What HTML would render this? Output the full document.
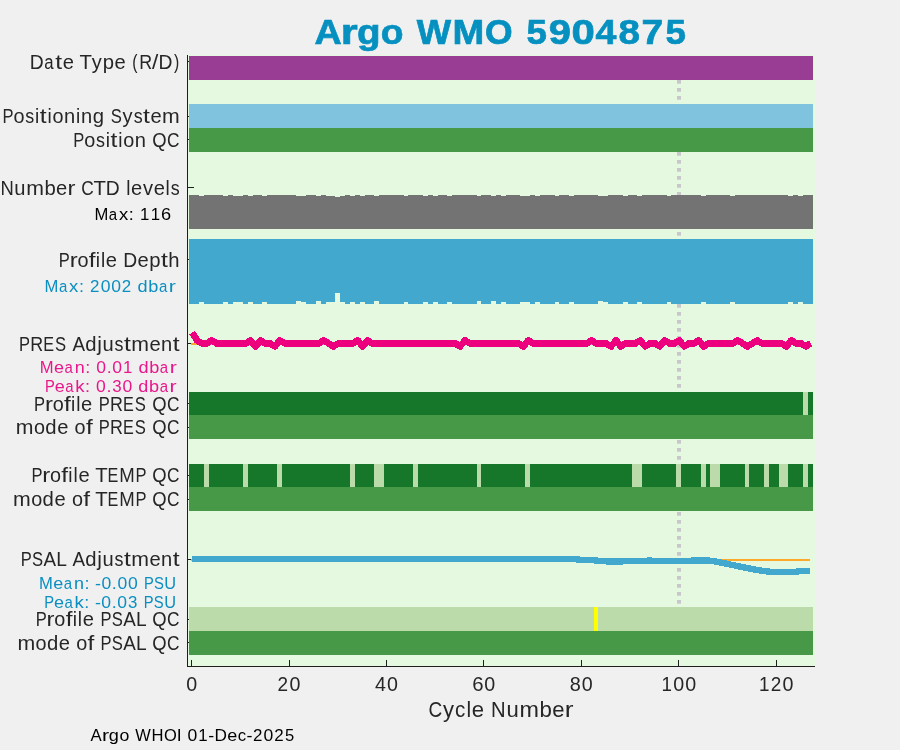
<!DOCTYPE html>
<html><head><meta charset="utf-8"><title>Argo WMO 5904875</title>
<style>
html,body{margin:0;padding:0;background:#f0f0f0;}
body{width:900px;height:750px;overflow:hidden;}
svg{display:block;}
text{font-family:"Liberation Sans", sans-serif;font-variant-ligatures:none;font-kerning:none;}
.tx{will-change:transform;}
</style></head><body>
<svg width="900" height="750" viewBox="0 0 900 750">
<rect x="0" y="0" width="900" height="750" fill="#f0f0f0"/>
<rect x="188.00" y="55.00" width="627.00" height="611.50" fill="#e5f8e0"/>
<rect x="187.00" y="61.00" width="7.00" height="1.00" fill="#1e1e1e"/>
<rect x="187.00" y="116.00" width="7.00" height="1.00" fill="#1e1e1e"/>
<rect x="187.00" y="139.00" width="7.00" height="1.00" fill="#1e1e1e"/>
<rect x="187.00" y="187.00" width="7.00" height="1.00" fill="#1e1e1e"/>
<rect x="187.00" y="259.00" width="7.00" height="1.00" fill="#1e1e1e"/>
<rect x="187.00" y="343.00" width="7.00" height="1.00" fill="#1e1e1e"/>
<rect x="187.00" y="403.00" width="7.00" height="1.00" fill="#1e1e1e"/>
<rect x="187.00" y="427.00" width="7.00" height="1.00" fill="#1e1e1e"/>
<rect x="187.00" y="475.00" width="7.00" height="1.00" fill="#1e1e1e"/>
<rect x="187.00" y="499.00" width="7.00" height="1.00" fill="#1e1e1e"/>
<rect x="187.00" y="559.00" width="7.00" height="1.00" fill="#1e1e1e"/>
<rect x="187.00" y="619.00" width="7.00" height="1.00" fill="#1e1e1e"/>
<rect x="187.00" y="642.00" width="7.00" height="1.00" fill="#1e1e1e"/>
<g><rect x="677.00" y="80.00" width="4.00" height="3.70" fill="#c8c6ca"/><rect x="677.00" y="88.00" width="4.00" height="3.70" fill="#c8c6ca"/><rect x="677.00" y="96.00" width="4.00" height="3.70" fill="#c8c6ca"/><rect x="677.00" y="104.00" width="4.00" height="3.70" fill="#c8c6ca"/><rect x="677.00" y="112.00" width="4.00" height="3.70" fill="#c8c6ca"/><rect x="677.00" y="120.00" width="4.00" height="3.70" fill="#c8c6ca"/><rect x="677.00" y="128.00" width="4.00" height="3.70" fill="#c8c6ca"/><rect x="677.00" y="136.00" width="4.00" height="3.70" fill="#c8c6ca"/><rect x="677.00" y="144.00" width="4.00" height="3.70" fill="#c8c6ca"/><rect x="677.00" y="152.00" width="4.00" height="3.70" fill="#c8c6ca"/><rect x="677.00" y="160.00" width="4.00" height="3.70" fill="#c8c6ca"/><rect x="677.00" y="168.00" width="4.00" height="3.70" fill="#c8c6ca"/><rect x="677.00" y="176.00" width="4.00" height="3.70" fill="#c8c6ca"/><rect x="677.00" y="184.00" width="4.00" height="3.70" fill="#c8c6ca"/><rect x="677.00" y="192.00" width="4.00" height="3.70" fill="#c8c6ca"/><rect x="677.00" y="200.00" width="4.00" height="3.70" fill="#c8c6ca"/><rect x="677.00" y="208.00" width="4.00" height="3.70" fill="#c8c6ca"/><rect x="677.00" y="216.00" width="4.00" height="3.70" fill="#c8c6ca"/><rect x="677.00" y="224.00" width="4.00" height="3.70" fill="#c8c6ca"/><rect x="677.00" y="232.00" width="4.00" height="3.70" fill="#c8c6ca"/><rect x="677.00" y="240.00" width="4.00" height="3.70" fill="#c8c6ca"/><rect x="677.00" y="248.00" width="4.00" height="3.70" fill="#c8c6ca"/><rect x="677.00" y="256.00" width="4.00" height="3.70" fill="#c8c6ca"/><rect x="677.00" y="264.00" width="4.00" height="3.70" fill="#c8c6ca"/><rect x="677.00" y="272.00" width="4.00" height="3.70" fill="#c8c6ca"/><rect x="677.00" y="280.00" width="4.00" height="3.70" fill="#c8c6ca"/><rect x="677.00" y="288.00" width="4.00" height="3.70" fill="#c8c6ca"/><rect x="677.00" y="296.00" width="4.00" height="3.70" fill="#c8c6ca"/><rect x="677.00" y="304.00" width="4.00" height="3.70" fill="#c8c6ca"/><rect x="677.00" y="312.00" width="4.00" height="3.70" fill="#c8c6ca"/><rect x="677.00" y="320.00" width="4.00" height="3.70" fill="#c8c6ca"/><rect x="677.00" y="328.00" width="4.00" height="3.70" fill="#c8c6ca"/><rect x="677.00" y="336.00" width="4.00" height="3.70" fill="#c8c6ca"/><rect x="677.00" y="344.00" width="4.00" height="3.70" fill="#c8c6ca"/><rect x="677.00" y="352.00" width="4.00" height="3.70" fill="#c8c6ca"/><rect x="677.00" y="360.00" width="4.00" height="3.70" fill="#c8c6ca"/><rect x="677.00" y="368.00" width="4.00" height="3.70" fill="#c8c6ca"/><rect x="677.00" y="376.00" width="4.00" height="3.70" fill="#c8c6ca"/><rect x="677.00" y="384.00" width="4.00" height="3.70" fill="#c8c6ca"/><rect x="677.00" y="392.00" width="4.00" height="3.70" fill="#c8c6ca"/><rect x="677.00" y="400.00" width="4.00" height="3.70" fill="#c8c6ca"/><rect x="677.00" y="408.00" width="4.00" height="3.70" fill="#c8c6ca"/><rect x="677.00" y="416.00" width="4.00" height="3.70" fill="#c8c6ca"/><rect x="677.00" y="424.00" width="4.00" height="3.70" fill="#c8c6ca"/><rect x="677.00" y="432.00" width="4.00" height="3.70" fill="#c8c6ca"/><rect x="677.00" y="440.00" width="4.00" height="3.70" fill="#c8c6ca"/><rect x="677.00" y="448.00" width="4.00" height="3.70" fill="#c8c6ca"/><rect x="677.00" y="456.00" width="4.00" height="3.70" fill="#c8c6ca"/><rect x="677.00" y="464.00" width="4.00" height="3.70" fill="#c8c6ca"/><rect x="677.00" y="472.00" width="4.00" height="3.70" fill="#c8c6ca"/><rect x="677.00" y="480.00" width="4.00" height="3.70" fill="#c8c6ca"/><rect x="677.00" y="488.00" width="4.00" height="3.70" fill="#c8c6ca"/><rect x="677.00" y="496.00" width="4.00" height="3.70" fill="#c8c6ca"/><rect x="677.00" y="504.00" width="4.00" height="3.70" fill="#c8c6ca"/><rect x="677.00" y="512.00" width="4.00" height="3.70" fill="#c8c6ca"/><rect x="677.00" y="520.00" width="4.00" height="3.70" fill="#c8c6ca"/><rect x="677.00" y="528.00" width="4.00" height="3.70" fill="#c8c6ca"/><rect x="677.00" y="536.00" width="4.00" height="3.70" fill="#c8c6ca"/><rect x="677.00" y="544.00" width="4.00" height="3.70" fill="#c8c6ca"/><rect x="677.00" y="552.00" width="4.00" height="3.70" fill="#c8c6ca"/><rect x="677.00" y="560.00" width="4.00" height="3.70" fill="#c8c6ca"/><rect x="677.00" y="568.00" width="4.00" height="3.70" fill="#c8c6ca"/><rect x="677.00" y="576.00" width="4.00" height="3.70" fill="#c8c6ca"/><rect x="677.00" y="584.00" width="4.00" height="3.70" fill="#c8c6ca"/><rect x="677.00" y="592.00" width="4.00" height="3.70" fill="#c8c6ca"/><rect x="677.00" y="600.00" width="4.00" height="3.70" fill="#c8c6ca"/></g>
<rect x="189.21" y="56.00" width="623.49" height="24.00" fill="#993d94" shape-rendering="crispEdges"/>
<rect x="189.21" y="104.00" width="623.49" height="24.00" fill="#7fc3df" shape-rendering="crispEdges"/>
<rect x="189.21" y="128.00" width="623.49" height="24.00" fill="#479947" shape-rendering="crispEdges"/>
<g shape-rendering="crispEdges"><rect x="189.21" y="195.00" width="4.92" height="34.00" fill="#737373"/><rect x="194.09" y="195.00" width="4.92" height="34.00" fill="#737373"/><rect x="198.96" y="196.00" width="4.92" height="33.00" fill="#737373"/><rect x="203.83" y="195.00" width="4.92" height="34.00" fill="#737373"/><rect x="208.70" y="195.00" width="4.92" height="34.00" fill="#737373"/><rect x="213.57" y="195.00" width="4.92" height="34.00" fill="#737373"/><rect x="218.44" y="195.00" width="4.92" height="34.00" fill="#737373"/><rect x="223.31" y="196.00" width="4.92" height="33.00" fill="#737373"/><rect x="228.18" y="195.00" width="4.92" height="34.00" fill="#737373"/><rect x="233.05" y="196.00" width="4.92" height="33.00" fill="#737373"/><rect x="237.92" y="196.00" width="4.92" height="33.00" fill="#737373"/><rect x="242.80" y="195.00" width="4.92" height="34.00" fill="#737373"/><rect x="247.67" y="196.00" width="4.92" height="33.00" fill="#737373"/><rect x="252.54" y="195.00" width="4.92" height="34.00" fill="#737373"/><rect x="257.41" y="195.00" width="4.92" height="34.00" fill="#737373"/><rect x="262.28" y="196.00" width="4.92" height="33.00" fill="#737373"/><rect x="267.15" y="195.00" width="4.92" height="34.00" fill="#737373"/><rect x="272.02" y="195.00" width="4.92" height="34.00" fill="#737373"/><rect x="276.89" y="195.00" width="4.92" height="34.00" fill="#737373"/><rect x="281.76" y="195.00" width="4.92" height="34.00" fill="#737373"/><rect x="286.63" y="195.00" width="4.92" height="34.00" fill="#737373"/><rect x="291.51" y="195.00" width="4.92" height="34.00" fill="#737373"/><rect x="296.38" y="196.00" width="4.92" height="33.00" fill="#737373"/><rect x="301.25" y="196.00" width="4.92" height="33.00" fill="#737373"/><rect x="306.12" y="195.00" width="4.92" height="34.00" fill="#737373"/><rect x="310.99" y="195.00" width="4.92" height="34.00" fill="#737373"/><rect x="315.86" y="196.00" width="4.92" height="33.00" fill="#737373"/><rect x="320.73" y="195.00" width="4.92" height="34.00" fill="#737373"/><rect x="325.60" y="196.00" width="4.92" height="33.00" fill="#737373"/><rect x="330.47" y="196.00" width="4.92" height="33.00" fill="#737373"/><rect x="335.34" y="197.00" width="4.92" height="32.00" fill="#737373"/><rect x="340.22" y="196.00" width="4.92" height="33.00" fill="#737373"/><rect x="345.09" y="195.00" width="4.92" height="34.00" fill="#737373"/><rect x="349.96" y="196.00" width="4.92" height="33.00" fill="#737373"/><rect x="354.83" y="195.00" width="4.92" height="34.00" fill="#737373"/><rect x="359.70" y="196.00" width="4.92" height="33.00" fill="#737373"/><rect x="364.57" y="195.00" width="4.92" height="34.00" fill="#737373"/><rect x="369.44" y="195.00" width="4.92" height="34.00" fill="#737373"/><rect x="374.31" y="196.00" width="4.92" height="33.00" fill="#737373"/><rect x="379.18" y="195.00" width="4.92" height="34.00" fill="#737373"/><rect x="384.05" y="195.00" width="4.92" height="34.00" fill="#737373"/><rect x="388.93" y="195.00" width="4.92" height="34.00" fill="#737373"/><rect x="393.80" y="195.00" width="4.92" height="34.00" fill="#737373"/><rect x="398.67" y="195.00" width="4.92" height="34.00" fill="#737373"/><rect x="403.54" y="196.00" width="4.92" height="33.00" fill="#737373"/><rect x="408.41" y="195.00" width="4.92" height="34.00" fill="#737373"/><rect x="413.28" y="195.00" width="4.92" height="34.00" fill="#737373"/><rect x="418.15" y="195.00" width="4.92" height="34.00" fill="#737373"/><rect x="423.02" y="196.00" width="4.92" height="33.00" fill="#737373"/><rect x="427.89" y="195.00" width="4.92" height="34.00" fill="#737373"/><rect x="432.76" y="196.00" width="4.92" height="33.00" fill="#737373"/><rect x="437.64" y="195.00" width="4.92" height="34.00" fill="#737373"/><rect x="442.51" y="195.00" width="4.92" height="34.00" fill="#737373"/><rect x="447.38" y="196.00" width="4.92" height="33.00" fill="#737373"/><rect x="452.25" y="195.00" width="4.92" height="34.00" fill="#737373"/><rect x="457.12" y="195.00" width="4.92" height="34.00" fill="#737373"/><rect x="461.99" y="195.00" width="4.92" height="34.00" fill="#737373"/><rect x="466.86" y="195.00" width="4.92" height="34.00" fill="#737373"/><rect x="471.73" y="195.00" width="4.92" height="34.00" fill="#737373"/><rect x="476.60" y="196.00" width="4.92" height="33.00" fill="#737373"/><rect x="481.47" y="195.00" width="4.92" height="34.00" fill="#737373"/><rect x="486.35" y="195.00" width="4.92" height="34.00" fill="#737373"/><rect x="491.22" y="196.00" width="4.92" height="33.00" fill="#737373"/><rect x="496.09" y="195.00" width="4.92" height="34.00" fill="#737373"/><rect x="500.96" y="196.00" width="4.92" height="33.00" fill="#737373"/><rect x="505.83" y="195.00" width="4.92" height="34.00" fill="#737373"/><rect x="510.70" y="195.00" width="4.92" height="34.00" fill="#737373"/><rect x="515.57" y="195.00" width="4.92" height="34.00" fill="#737373"/><rect x="520.44" y="196.00" width="4.92" height="33.00" fill="#737373"/><rect x="525.31" y="196.00" width="4.92" height="33.00" fill="#737373"/><rect x="530.18" y="195.00" width="4.92" height="34.00" fill="#737373"/><rect x="535.06" y="196.00" width="4.92" height="33.00" fill="#737373"/><rect x="539.93" y="195.00" width="4.92" height="34.00" fill="#737373"/><rect x="544.80" y="195.00" width="4.92" height="34.00" fill="#737373"/><rect x="549.67" y="195.00" width="4.92" height="34.00" fill="#737373"/><rect x="554.54" y="196.00" width="4.92" height="33.00" fill="#737373"/><rect x="559.41" y="195.00" width="4.92" height="34.00" fill="#737373"/><rect x="564.28" y="195.00" width="4.92" height="34.00" fill="#737373"/><rect x="569.15" y="196.00" width="4.92" height="33.00" fill="#737373"/><rect x="574.02" y="195.00" width="4.92" height="34.00" fill="#737373"/><rect x="578.89" y="195.00" width="4.92" height="34.00" fill="#737373"/><rect x="583.77" y="195.00" width="4.92" height="34.00" fill="#737373"/><rect x="588.64" y="195.00" width="4.92" height="34.00" fill="#737373"/><rect x="593.51" y="195.00" width="4.92" height="34.00" fill="#737373"/><rect x="598.38" y="196.00" width="4.92" height="33.00" fill="#737373"/><rect x="603.25" y="196.00" width="4.92" height="33.00" fill="#737373"/><rect x="608.12" y="195.00" width="4.92" height="34.00" fill="#737373"/><rect x="612.99" y="195.00" width="4.92" height="34.00" fill="#737373"/><rect x="617.86" y="195.00" width="4.92" height="34.00" fill="#737373"/><rect x="622.73" y="196.00" width="4.92" height="33.00" fill="#737373"/><rect x="627.60" y="195.00" width="4.92" height="34.00" fill="#737373"/><rect x="632.48" y="195.00" width="4.92" height="34.00" fill="#737373"/><rect x="637.35" y="196.00" width="4.92" height="33.00" fill="#737373"/><rect x="642.22" y="195.00" width="4.92" height="34.00" fill="#737373"/><rect x="647.09" y="195.00" width="4.92" height="34.00" fill="#737373"/><rect x="651.96" y="195.00" width="4.92" height="34.00" fill="#737373"/><rect x="656.83" y="195.00" width="4.92" height="34.00" fill="#737373"/><rect x="661.70" y="195.00" width="4.92" height="34.00" fill="#737373"/><rect x="666.57" y="196.00" width="4.92" height="33.00" fill="#737373"/><rect x="671.44" y="195.00" width="4.92" height="34.00" fill="#737373"/><rect x="676.31" y="195.00" width="4.92" height="34.00" fill="#737373"/><rect x="681.19" y="195.00" width="4.92" height="34.00" fill="#737373"/><rect x="686.06" y="195.00" width="4.92" height="34.00" fill="#737373"/><rect x="690.93" y="195.00" width="4.92" height="34.00" fill="#737373"/><rect x="695.80" y="195.00" width="4.92" height="34.00" fill="#737373"/><rect x="700.67" y="196.00" width="4.92" height="33.00" fill="#737373"/><rect x="705.54" y="195.00" width="4.92" height="34.00" fill="#737373"/><rect x="710.41" y="195.00" width="4.92" height="34.00" fill="#737373"/><rect x="715.28" y="195.00" width="4.92" height="34.00" fill="#737373"/><rect x="720.15" y="195.00" width="4.92" height="34.00" fill="#737373"/><rect x="725.02" y="195.00" width="4.92" height="34.00" fill="#737373"/><rect x="729.90" y="196.00" width="4.92" height="33.00" fill="#737373"/><rect x="734.77" y="195.00" width="4.92" height="34.00" fill="#737373"/><rect x="739.64" y="195.00" width="4.92" height="34.00" fill="#737373"/><rect x="744.51" y="195.00" width="4.92" height="34.00" fill="#737373"/><rect x="749.38" y="195.00" width="4.92" height="34.00" fill="#737373"/><rect x="754.25" y="195.00" width="4.92" height="34.00" fill="#737373"/><rect x="759.12" y="195.00" width="4.92" height="34.00" fill="#737373"/><rect x="763.99" y="195.00" width="4.92" height="34.00" fill="#737373"/><rect x="768.86" y="195.00" width="4.92" height="34.00" fill="#737373"/><rect x="773.73" y="195.00" width="4.92" height="34.00" fill="#737373"/><rect x="778.61" y="195.00" width="4.92" height="34.00" fill="#737373"/><rect x="783.48" y="195.00" width="4.92" height="34.00" fill="#737373"/><rect x="788.35" y="196.00" width="4.92" height="33.00" fill="#737373"/><rect x="793.22" y="195.00" width="4.92" height="34.00" fill="#737373"/><rect x="798.09" y="196.00" width="4.92" height="33.00" fill="#737373"/><rect x="802.96" y="195.00" width="4.92" height="34.00" fill="#737373"/><rect x="807.83" y="195.00" width="4.92" height="34.00" fill="#737373"/></g>
<g shape-rendering="crispEdges"><rect x="189.21" y="239.00" width="4.92" height="65.00" fill="#42a8ce"/><rect x="194.09" y="239.00" width="4.92" height="65.00" fill="#42a8ce"/><rect x="198.96" y="239.00" width="4.92" height="63.00" fill="#42a8ce"/><rect x="203.83" y="239.00" width="4.92" height="65.00" fill="#42a8ce"/><rect x="208.70" y="239.00" width="4.92" height="65.00" fill="#42a8ce"/><rect x="213.57" y="239.00" width="4.92" height="65.00" fill="#42a8ce"/><rect x="218.44" y="239.00" width="4.92" height="65.00" fill="#42a8ce"/><rect x="223.31" y="239.00" width="4.92" height="63.00" fill="#42a8ce"/><rect x="228.18" y="239.00" width="4.92" height="65.00" fill="#42a8ce"/><rect x="233.05" y="239.00" width="4.92" height="63.00" fill="#42a8ce"/><rect x="237.92" y="239.00" width="4.92" height="63.00" fill="#42a8ce"/><rect x="242.80" y="239.00" width="4.92" height="65.00" fill="#42a8ce"/><rect x="247.67" y="239.00" width="4.92" height="63.00" fill="#42a8ce"/><rect x="252.54" y="239.00" width="4.92" height="65.00" fill="#42a8ce"/><rect x="257.41" y="239.00" width="4.92" height="65.00" fill="#42a8ce"/><rect x="262.28" y="239.00" width="4.92" height="63.00" fill="#42a8ce"/><rect x="267.15" y="239.00" width="4.92" height="65.00" fill="#42a8ce"/><rect x="272.02" y="239.00" width="4.92" height="65.00" fill="#42a8ce"/><rect x="276.89" y="239.00" width="4.92" height="65.00" fill="#42a8ce"/><rect x="281.76" y="239.00" width="4.92" height="65.00" fill="#42a8ce"/><rect x="286.63" y="239.00" width="4.92" height="65.00" fill="#42a8ce"/><rect x="291.51" y="239.00" width="4.92" height="65.00" fill="#42a8ce"/><rect x="296.38" y="239.00" width="4.92" height="62.00" fill="#42a8ce"/><rect x="301.25" y="239.00" width="4.92" height="63.00" fill="#42a8ce"/><rect x="306.12" y="239.00" width="4.92" height="65.00" fill="#42a8ce"/><rect x="310.99" y="239.00" width="4.92" height="65.00" fill="#42a8ce"/><rect x="315.86" y="239.00" width="4.92" height="62.00" fill="#42a8ce"/><rect x="320.73" y="239.00" width="4.92" height="65.00" fill="#42a8ce"/><rect x="325.60" y="239.00" width="4.92" height="63.00" fill="#42a8ce"/><rect x="330.47" y="239.00" width="4.92" height="63.00" fill="#42a8ce"/><rect x="335.34" y="239.00" width="4.92" height="53.80" fill="#42a8ce"/><rect x="340.22" y="239.00" width="4.92" height="63.00" fill="#42a8ce"/><rect x="345.09" y="239.00" width="4.92" height="65.00" fill="#42a8ce"/><rect x="349.96" y="239.00" width="4.92" height="63.00" fill="#42a8ce"/><rect x="354.83" y="239.00" width="4.92" height="65.00" fill="#42a8ce"/><rect x="359.70" y="239.00" width="4.92" height="63.00" fill="#42a8ce"/><rect x="364.57" y="239.00" width="4.92" height="65.00" fill="#42a8ce"/><rect x="369.44" y="239.00" width="4.92" height="65.00" fill="#42a8ce"/><rect x="374.31" y="239.00" width="4.92" height="62.00" fill="#42a8ce"/><rect x="379.18" y="239.00" width="4.92" height="65.00" fill="#42a8ce"/><rect x="384.05" y="239.00" width="4.92" height="65.00" fill="#42a8ce"/><rect x="388.93" y="239.00" width="4.92" height="65.00" fill="#42a8ce"/><rect x="393.80" y="239.00" width="4.92" height="65.00" fill="#42a8ce"/><rect x="398.67" y="239.00" width="4.92" height="65.00" fill="#42a8ce"/><rect x="403.54" y="239.00" width="4.92" height="63.00" fill="#42a8ce"/><rect x="408.41" y="239.00" width="4.92" height="65.00" fill="#42a8ce"/><rect x="413.28" y="239.00" width="4.92" height="65.00" fill="#42a8ce"/><rect x="418.15" y="239.00" width="4.92" height="65.00" fill="#42a8ce"/><rect x="423.02" y="239.00" width="4.92" height="63.00" fill="#42a8ce"/><rect x="427.89" y="239.00" width="4.92" height="65.00" fill="#42a8ce"/><rect x="432.76" y="239.00" width="4.92" height="63.00" fill="#42a8ce"/><rect x="437.64" y="239.00" width="4.92" height="65.00" fill="#42a8ce"/><rect x="442.51" y="239.00" width="4.92" height="65.00" fill="#42a8ce"/><rect x="447.38" y="239.00" width="4.92" height="63.00" fill="#42a8ce"/><rect x="452.25" y="239.00" width="4.92" height="65.00" fill="#42a8ce"/><rect x="457.12" y="239.00" width="4.92" height="65.00" fill="#42a8ce"/><rect x="461.99" y="239.00" width="4.92" height="65.00" fill="#42a8ce"/><rect x="466.86" y="239.00" width="4.92" height="65.00" fill="#42a8ce"/><rect x="471.73" y="239.00" width="4.92" height="65.00" fill="#42a8ce"/><rect x="476.60" y="239.00" width="4.92" height="62.00" fill="#42a8ce"/><rect x="481.47" y="239.00" width="4.92" height="65.00" fill="#42a8ce"/><rect x="486.35" y="239.00" width="4.92" height="65.00" fill="#42a8ce"/><rect x="491.22" y="239.00" width="4.92" height="62.00" fill="#42a8ce"/><rect x="496.09" y="239.00" width="4.92" height="65.00" fill="#42a8ce"/><rect x="500.96" y="239.00" width="4.92" height="63.00" fill="#42a8ce"/><rect x="505.83" y="239.00" width="4.92" height="65.00" fill="#42a8ce"/><rect x="510.70" y="239.00" width="4.92" height="65.00" fill="#42a8ce"/><rect x="515.57" y="239.00" width="4.92" height="65.00" fill="#42a8ce"/><rect x="520.44" y="239.00" width="4.92" height="63.00" fill="#42a8ce"/><rect x="525.31" y="239.00" width="4.92" height="63.00" fill="#42a8ce"/><rect x="530.18" y="239.00" width="4.92" height="65.00" fill="#42a8ce"/><rect x="535.06" y="239.00" width="4.92" height="63.00" fill="#42a8ce"/><rect x="539.93" y="239.00" width="4.92" height="65.00" fill="#42a8ce"/><rect x="544.80" y="239.00" width="4.92" height="65.00" fill="#42a8ce"/><rect x="549.67" y="239.00" width="4.92" height="65.00" fill="#42a8ce"/><rect x="554.54" y="239.00" width="4.92" height="63.00" fill="#42a8ce"/><rect x="559.41" y="239.00" width="4.92" height="65.00" fill="#42a8ce"/><rect x="564.28" y="239.00" width="4.92" height="65.00" fill="#42a8ce"/><rect x="569.15" y="239.00" width="4.92" height="63.00" fill="#42a8ce"/><rect x="574.02" y="239.00" width="4.92" height="65.00" fill="#42a8ce"/><rect x="578.89" y="239.00" width="4.92" height="65.00" fill="#42a8ce"/><rect x="583.77" y="239.00" width="4.92" height="65.00" fill="#42a8ce"/><rect x="588.64" y="239.00" width="4.92" height="65.00" fill="#42a8ce"/><rect x="593.51" y="239.00" width="4.92" height="65.00" fill="#42a8ce"/><rect x="598.38" y="239.00" width="4.92" height="62.00" fill="#42a8ce"/><rect x="603.25" y="239.00" width="4.92" height="63.00" fill="#42a8ce"/><rect x="608.12" y="239.00" width="4.92" height="65.00" fill="#42a8ce"/><rect x="612.99" y="239.00" width="4.92" height="65.00" fill="#42a8ce"/><rect x="617.86" y="239.00" width="4.92" height="65.00" fill="#42a8ce"/><rect x="622.73" y="239.00" width="4.92" height="63.00" fill="#42a8ce"/><rect x="627.60" y="239.00" width="4.92" height="65.00" fill="#42a8ce"/><rect x="632.48" y="239.00" width="4.92" height="65.00" fill="#42a8ce"/><rect x="637.35" y="239.00" width="4.92" height="63.00" fill="#42a8ce"/><rect x="642.22" y="239.00" width="4.92" height="65.00" fill="#42a8ce"/><rect x="647.09" y="239.00" width="4.92" height="65.00" fill="#42a8ce"/><rect x="651.96" y="239.00" width="4.92" height="65.00" fill="#42a8ce"/><rect x="656.83" y="239.00" width="4.92" height="65.00" fill="#42a8ce"/><rect x="661.70" y="239.00" width="4.92" height="65.00" fill="#42a8ce"/><rect x="666.57" y="239.00" width="4.92" height="63.00" fill="#42a8ce"/><rect x="671.44" y="239.00" width="4.92" height="65.00" fill="#42a8ce"/><rect x="676.31" y="239.00" width="4.92" height="65.00" fill="#42a8ce"/><rect x="681.19" y="239.00" width="4.92" height="65.00" fill="#42a8ce"/><rect x="686.06" y="239.00" width="4.92" height="65.00" fill="#42a8ce"/><rect x="690.93" y="239.00" width="4.92" height="65.00" fill="#42a8ce"/><rect x="695.80" y="239.00" width="4.92" height="65.00" fill="#42a8ce"/><rect x="700.67" y="239.00" width="4.92" height="63.00" fill="#42a8ce"/><rect x="705.54" y="239.00" width="4.92" height="65.00" fill="#42a8ce"/><rect x="710.41" y="239.00" width="4.92" height="65.00" fill="#42a8ce"/><rect x="715.28" y="239.00" width="4.92" height="65.00" fill="#42a8ce"/><rect x="720.15" y="239.00" width="4.92" height="65.00" fill="#42a8ce"/><rect x="725.02" y="239.00" width="4.92" height="65.00" fill="#42a8ce"/><rect x="729.90" y="239.00" width="4.92" height="63.00" fill="#42a8ce"/><rect x="734.77" y="239.00" width="4.92" height="65.00" fill="#42a8ce"/><rect x="739.64" y="239.00" width="4.92" height="65.00" fill="#42a8ce"/><rect x="744.51" y="239.00" width="4.92" height="65.00" fill="#42a8ce"/><rect x="749.38" y="239.00" width="4.92" height="65.00" fill="#42a8ce"/><rect x="754.25" y="239.00" width="4.92" height="65.00" fill="#42a8ce"/><rect x="759.12" y="239.00" width="4.92" height="65.00" fill="#42a8ce"/><rect x="763.99" y="239.00" width="4.92" height="65.00" fill="#42a8ce"/><rect x="768.86" y="239.00" width="4.92" height="65.00" fill="#42a8ce"/><rect x="773.73" y="239.00" width="4.92" height="65.00" fill="#42a8ce"/><rect x="778.61" y="239.00" width="4.92" height="65.00" fill="#42a8ce"/><rect x="783.48" y="239.00" width="4.92" height="65.00" fill="#42a8ce"/><rect x="788.35" y="239.00" width="4.92" height="63.00" fill="#42a8ce"/><rect x="793.22" y="239.00" width="4.92" height="65.00" fill="#42a8ce"/><rect x="798.09" y="239.00" width="4.92" height="63.00" fill="#42a8ce"/><rect x="802.96" y="239.00" width="4.92" height="65.00" fill="#42a8ce"/><rect x="807.83" y="239.00" width="4.92" height="65.00" fill="#42a8ce"/></g>
<rect x="191.00" y="343.00" width="619.50" height="2.00" fill="#fda92b" shape-rendering="crispEdges"/>
<rect x="191.00" y="559.00" width="619.00" height="2.00" fill="#fda92b" shape-rendering="crispEdges"/>
<polyline points="192.15,332.55 197.02,340.40 201.89,343.40 206.76,343.40 211.63,340.40 216.50,343.40 221.38,343.40 226.25,343.40 231.12,343.40 235.99,343.40 240.86,343.40 245.73,343.40 250.60,340.40 255.47,346.40 260.34,340.40 265.22,343.40 270.09,343.40 274.96,346.40 279.83,340.40 284.70,343.40 289.57,343.40 294.44,343.40 299.31,343.40 304.18,343.40 309.05,343.40 313.93,343.40 318.80,343.40 323.67,340.40 328.54,343.40 333.41,346.40 338.28,343.40 343.15,343.40 348.02,343.40 352.89,343.40 357.76,340.40 362.63,346.40 367.51,340.40 372.38,343.40 377.25,343.40 382.12,343.40 386.99,343.40 391.86,343.40 396.73,343.40 401.60,343.40 406.47,343.40 411.35,343.40 416.22,343.40 421.09,343.40 425.96,343.40 430.83,343.40 435.70,343.40 440.57,343.40 445.44,343.40 450.31,343.40 455.18,343.40 460.06,346.40 464.93,340.40 469.80,343.40 474.67,343.40 479.54,343.40 484.41,343.40 489.28,343.40 494.15,343.40 499.02,343.40 503.89,343.40 508.76,343.40 513.64,343.40 518.51,343.40 523.38,346.40 528.25,340.40 533.12,343.40 537.99,343.40 542.86,343.40 547.73,343.40 552.60,343.40 557.48,343.40 562.35,343.40 567.22,343.40 572.09,343.40 576.96,343.40 581.83,343.40 586.70,343.40 591.57,340.40 596.44,343.40 601.31,343.40 606.19,343.40 611.06,346.40 615.93,340.40 620.80,346.40 625.67,343.40 630.54,343.40 635.41,343.40 640.28,340.40 645.15,346.40 650.02,343.40 654.90,343.40 659.77,346.40 664.64,340.40 669.51,343.40 674.38,343.40 679.25,340.40 684.12,346.40 688.99,343.40 693.86,343.40 698.73,340.40 703.61,346.40 708.48,343.40 713.35,343.40 718.22,343.40 723.09,343.40 727.96,343.40 732.83,343.40 737.70,340.40 742.57,343.40 747.44,346.40 752.32,343.40 757.19,340.40 762.06,343.40 766.93,343.40 771.80,343.40 776.67,343.40 781.54,343.40 786.41,346.40 791.28,340.40 796.15,343.40 801.02,343.40 805.90,346.40 810.77,343.40" fill="none" stroke="#ec007d" stroke-width="6.7" stroke-linejoin="round" stroke-linecap="butt" shape-rendering="crispEdges"/>
<polyline points="191.65,559.00 196.52,559.00 201.39,559.00 206.26,559.00 211.13,559.00 216.00,559.00 220.88,559.00 225.75,559.00 230.62,559.00 235.49,559.00 240.36,559.00 245.23,559.00 250.10,559.00 254.97,559.00 259.84,559.00 264.72,559.00 269.59,559.00 274.46,559.00 279.33,559.00 284.20,559.00 289.07,559.00 293.94,559.00 298.81,559.00 303.68,559.00 308.55,559.00 313.43,559.00 318.30,559.00 323.17,559.00 328.04,559.00 332.91,559.00 337.78,559.00 342.65,559.00 347.52,559.00 352.39,559.00 357.26,559.00 362.13,559.00 367.01,559.00 371.88,559.00 376.75,559.00 381.62,559.00 386.49,559.00 391.36,559.00 396.23,559.00 401.10,559.00 405.97,559.00 410.85,559.00 415.72,559.00 420.59,559.00 425.46,559.00 430.33,559.00 435.20,559.00 440.07,559.00 444.94,559.00 449.81,559.00 454.68,559.00 459.56,559.00 464.43,559.00 469.30,559.00 474.17,559.00 479.04,559.00 483.91,559.00 488.78,559.00 493.65,559.00 498.52,559.00 503.39,559.00 508.26,559.00 513.14,559.00 518.01,559.00 522.88,559.00 527.75,559.00 532.62,559.00 537.49,559.00 542.36,559.00 547.23,559.00 552.10,559.00 556.98,559.00 561.85,559.00 566.72,559.00 571.59,559.00 576.46,559.30 581.33,560.00 586.20,560.00 591.07,560.00 595.94,560.50 600.81,561.00 605.69,561.30 610.56,561.60 615.43,561.60 620.30,561.60 625.17,561.00 630.04,561.00 634.91,561.00 639.78,561.00 644.65,561.00 649.52,560.50 654.40,561.00 659.27,561.00 664.14,561.00 669.01,561.00 673.88,561.00 678.75,561.00 683.62,561.00 688.49,561.00 693.36,560.50 698.23,560.50 703.11,560.50 707.98,560.50 712.85,561.00 717.72,561.90 722.59,562.90 727.46,564.00 732.33,565.00 737.20,566.00 742.07,567.00 746.94,568.00 751.82,569.00 756.69,569.90 761.56,570.70 766.43,571.40 771.30,571.90 776.17,571.90 781.04,571.90 785.91,571.90 790.78,571.90 795.65,571.90 800.52,570.90 805.40,570.90 810.27,570.90" fill="none" stroke="#42a8ce" stroke-width="6.4" stroke-linejoin="round" stroke-linecap="butt" shape-rendering="crispEdges"/>
<rect x="189.21" y="392.00" width="623.49" height="23.00" fill="#16772b" shape-rendering="crispEdges"/>
<rect x="802.96" y="392.00" width="4.87" height="23.00" fill="#bcdbab" shape-rendering="crispEdges"/>
<rect x="189.21" y="415.00" width="623.49" height="24.00" fill="#479947" shape-rendering="crispEdges"/>
<rect x="189.21" y="464.00" width="623.49" height="23.00" fill="#16772b" shape-rendering="crispEdges"/>
<rect x="203.83" y="464.00" width="4.87" height="23.00" fill="#bcdbab" shape-rendering="crispEdges"/>
<rect x="242.80" y="464.00" width="4.87" height="23.00" fill="#bcdbab" shape-rendering="crispEdges"/>
<rect x="276.89" y="464.00" width="4.87" height="23.00" fill="#bcdbab" shape-rendering="crispEdges"/>
<rect x="349.96" y="464.00" width="4.87" height="23.00" fill="#bcdbab" shape-rendering="crispEdges"/>
<rect x="374.31" y="464.00" width="9.74" height="23.00" fill="#bcdbab" shape-rendering="crispEdges"/>
<rect x="413.28" y="464.00" width="4.87" height="23.00" fill="#bcdbab" shape-rendering="crispEdges"/>
<rect x="476.60" y="464.00" width="4.87" height="23.00" fill="#bcdbab" shape-rendering="crispEdges"/>
<rect x="525.31" y="464.00" width="4.87" height="23.00" fill="#bcdbab" shape-rendering="crispEdges"/>
<rect x="632.48" y="464.00" width="9.74" height="23.00" fill="#bcdbab" shape-rendering="crispEdges"/>
<rect x="676.31" y="464.00" width="4.87" height="23.00" fill="#bcdbab" shape-rendering="crispEdges"/>
<rect x="700.67" y="464.00" width="4.87" height="23.00" fill="#bcdbab" shape-rendering="crispEdges"/>
<rect x="710.41" y="464.00" width="9.74" height="23.00" fill="#bcdbab" shape-rendering="crispEdges"/>
<rect x="744.51" y="464.00" width="4.87" height="23.00" fill="#bcdbab" shape-rendering="crispEdges"/>
<rect x="763.99" y="464.00" width="4.87" height="23.00" fill="#bcdbab" shape-rendering="crispEdges"/>
<rect x="778.61" y="464.00" width="9.74" height="23.00" fill="#bcdbab" shape-rendering="crispEdges"/>
<rect x="802.96" y="464.00" width="4.87" height="23.00" fill="#bcdbab" shape-rendering="crispEdges"/>
<rect x="189.21" y="487.00" width="623.49" height="24.00" fill="#479947" shape-rendering="crispEdges"/>
<rect x="189.21" y="607.00" width="623.49" height="24.00" fill="#bcdbab" shape-rendering="crispEdges"/>
<rect x="593.51" y="607.00" width="4.87" height="24.00" fill="#ffff00" shape-rendering="crispEdges"/>
<rect x="189.21" y="631.00" width="623.49" height="24.00" fill="#479947" shape-rendering="crispEdges"/>
<rect x="187.00" y="55.00" width="1.00" height="612.00" fill="#1e1e1e"/>
<rect x="187.00" y="666.00" width="628.00" height="1.00" fill="#1e1e1e"/>
<rect x="191.00" y="660.00" width="1.00" height="6.00" fill="#1e1e1e"/>
<rect x="289.00" y="660.00" width="1.00" height="6.00" fill="#1e1e1e"/>
<rect x="386.00" y="660.00" width="1.00" height="6.00" fill="#1e1e1e"/>
<rect x="483.00" y="660.00" width="1.00" height="6.00" fill="#1e1e1e"/>
<rect x="581.00" y="660.00" width="1.00" height="6.00" fill="#1e1e1e"/>
<rect x="678.00" y="660.00" width="1.00" height="6.00" fill="#1e1e1e"/>
<rect x="776.00" y="660.00" width="1.00" height="6.00" fill="#1e1e1e"/>
<g class="tx">
<text y="69.00" font-size="19.78" fill="#262626"><tspan x="29.66" textLength="13.95" lengthAdjust="spacingAndGlyphs">D</tspan><tspan x="44.19" textLength="9.34" lengthAdjust="spacingAndGlyphs">a</tspan><tspan x="55.38" textLength="6.87" lengthAdjust="spacingAndGlyphs">t</tspan><tspan x="62.72" textLength="11.22" lengthAdjust="spacingAndGlyphs">e</tspan> <tspan x="79.46" textLength="12.44" lengthAdjust="spacingAndGlyphs">T</tspan><tspan x="91.88" textLength="10.02" lengthAdjust="spacingAndGlyphs">y</tspan><tspan x="102.81" textLength="11.30" lengthAdjust="spacingAndGlyphs">p</tspan><tspan x="114.45" textLength="11.22" lengthAdjust="spacingAndGlyphs">e</tspan> <tspan x="132.31" textLength="5.27" lengthAdjust="spacingAndGlyphs">(</tspan><tspan x="139.34" textLength="12.90" lengthAdjust="spacingAndGlyphs">R</tspan><tspan x="151.95" textLength="6.29" lengthAdjust="spacingAndGlyphs">/</tspan><tspan x="158.49" textLength="13.95" lengthAdjust="spacingAndGlyphs">D</tspan><tspan x="174.01" textLength="5.27" lengthAdjust="spacingAndGlyphs">)</tspan></text>
<text y="123.00" font-size="19.78" fill="#262626"><tspan x="2.59" textLength="11.01" lengthAdjust="spacingAndGlyphs">P</tspan><tspan x="13.57" textLength="11.04" lengthAdjust="spacingAndGlyphs">o</tspan><tspan x="25.31" textLength="8.95" lengthAdjust="spacingAndGlyphs">s</tspan><tspan x="35.01" textLength="4.24" lengthAdjust="spacingAndGlyphs">i</tspan><tspan x="39.87" textLength="6.87" lengthAdjust="spacingAndGlyphs">t</tspan><tspan x="47.51" textLength="4.24" lengthAdjust="spacingAndGlyphs">i</tspan><tspan x="52.42" textLength="11.04" lengthAdjust="spacingAndGlyphs">o</tspan><tspan x="64.00" textLength="11.19" lengthAdjust="spacingAndGlyphs">n</tspan><tspan x="75.96" textLength="4.24" lengthAdjust="spacingAndGlyphs">i</tspan><tspan x="81.02" textLength="11.19" lengthAdjust="spacingAndGlyphs">n</tspan><tspan x="92.67" textLength="11.29" lengthAdjust="spacingAndGlyphs">g</tspan> <tspan x="110.75" textLength="11.10" lengthAdjust="spacingAndGlyphs">S</tspan><tspan x="122.64" textLength="10.02" lengthAdjust="spacingAndGlyphs">y</tspan><tspan x="133.69" textLength="8.95" lengthAdjust="spacingAndGlyphs">s</tspan><tspan x="143.06" textLength="6.87" lengthAdjust="spacingAndGlyphs">t</tspan><tspan x="150.40" textLength="11.22" lengthAdjust="spacingAndGlyphs">e</tspan><tspan x="162.00" textLength="17.72" lengthAdjust="spacingAndGlyphs">m</tspan></text>
<text y="147.00" font-size="19.78" fill="#262626"><tspan x="73.35" textLength="11.01" lengthAdjust="spacingAndGlyphs">P</tspan><tspan x="84.33" textLength="11.04" lengthAdjust="spacingAndGlyphs">o</tspan><tspan x="96.07" textLength="8.95" lengthAdjust="spacingAndGlyphs">s</tspan><tspan x="105.77" textLength="4.24" lengthAdjust="spacingAndGlyphs">i</tspan><tspan x="110.63" textLength="6.87" lengthAdjust="spacingAndGlyphs">t</tspan><tspan x="118.27" textLength="4.24" lengthAdjust="spacingAndGlyphs">i</tspan><tspan x="123.18" textLength="11.04" lengthAdjust="spacingAndGlyphs">o</tspan><tspan x="134.76" textLength="11.19" lengthAdjust="spacingAndGlyphs">n</tspan> <tspan x="152.34" textLength="14.36" lengthAdjust="spacingAndGlyphs">Q</tspan><tspan x="167.03" textLength="12.52" lengthAdjust="spacingAndGlyphs">C</tspan></text>
<text y="195.00" font-size="19.78" fill="#262626"><tspan x="0.41" textLength="13.32" lengthAdjust="spacingAndGlyphs">N</tspan><tspan x="14.34" textLength="11.19" lengthAdjust="spacingAndGlyphs">u</tspan><tspan x="26.17" textLength="17.72" lengthAdjust="spacingAndGlyphs">m</tspan><tspan x="44.46" textLength="11.30" lengthAdjust="spacingAndGlyphs">b</tspan><tspan x="56.10" textLength="11.22" lengthAdjust="spacingAndGlyphs">e</tspan><tspan x="67.52" textLength="7.97" lengthAdjust="spacingAndGlyphs">r</tspan> <tspan x="81.19" textLength="12.52" lengthAdjust="spacingAndGlyphs">C</tspan><tspan x="93.55" textLength="12.44" lengthAdjust="spacingAndGlyphs">T</tspan><tspan x="105.71" textLength="13.95" lengthAdjust="spacingAndGlyphs">D</tspan> <tspan x="126.25" textLength="4.24" lengthAdjust="spacingAndGlyphs">l</tspan><tspan x="131.14" textLength="11.22" lengthAdjust="spacingAndGlyphs">e</tspan><tspan x="142.94" textLength="10.07" lengthAdjust="spacingAndGlyphs">v</tspan><tspan x="153.67" textLength="11.22" lengthAdjust="spacingAndGlyphs">e</tspan><tspan x="165.46" textLength="4.24" lengthAdjust="spacingAndGlyphs">l</tspan><tspan x="170.69" textLength="8.95" lengthAdjust="spacingAndGlyphs">s</tspan></text>
<text y="267.00" font-size="19.78" fill="#262626"><tspan x="58.79" textLength="11.01" lengthAdjust="spacingAndGlyphs">P</tspan><tspan x="69.67" textLength="7.97" lengthAdjust="spacingAndGlyphs">r</tspan><tspan x="77.44" textLength="11.04" lengthAdjust="spacingAndGlyphs">o</tspan><tspan x="88.75" textLength="6.81" lengthAdjust="spacingAndGlyphs">f</tspan><tspan x="95.72" textLength="4.24" lengthAdjust="spacingAndGlyphs">i</tspan><tspan x="100.90" textLength="4.24" lengthAdjust="spacingAndGlyphs">l</tspan><tspan x="105.79" textLength="11.22" lengthAdjust="spacingAndGlyphs">e</tspan> <tspan x="123.28" textLength="13.95" lengthAdjust="spacingAndGlyphs">D</tspan><tspan x="137.58" textLength="11.22" lengthAdjust="spacingAndGlyphs">e</tspan><tspan x="149.28" textLength="11.30" lengthAdjust="spacingAndGlyphs">p</tspan><tspan x="160.90" textLength="6.87" lengthAdjust="spacingAndGlyphs">t</tspan><tspan x="168.36" textLength="11.27" lengthAdjust="spacingAndGlyphs">h</tspan></text>
<text y="351.00" font-size="19.78" fill="#262626"><tspan x="19.05" textLength="11.01" lengthAdjust="spacingAndGlyphs">P</tspan><tspan x="30.20" textLength="12.90" lengthAdjust="spacingAndGlyphs">R</tspan><tspan x="43.31" textLength="10.79" lengthAdjust="spacingAndGlyphs">E</tspan><tspan x="55.07" textLength="11.10" lengthAdjust="spacingAndGlyphs">S</tspan> <tspan x="72.49" textLength="12.54" lengthAdjust="spacingAndGlyphs">A</tspan><tspan x="85.33" textLength="11.29" lengthAdjust="spacingAndGlyphs">d</tspan><tspan x="97.18" textLength="4.68" lengthAdjust="spacingAndGlyphs">j</tspan><tspan x="102.47" textLength="11.19" lengthAdjust="spacingAndGlyphs">u</tspan><tspan x="114.54" textLength="8.95" lengthAdjust="spacingAndGlyphs">s</tspan><tspan x="123.91" textLength="6.87" lengthAdjust="spacingAndGlyphs">t</tspan><tspan x="131.36" textLength="17.72" lengthAdjust="spacingAndGlyphs">m</tspan><tspan x="149.43" textLength="11.22" lengthAdjust="spacingAndGlyphs">e</tspan><tspan x="161.11" textLength="11.19" lengthAdjust="spacingAndGlyphs">n</tspan><tspan x="172.74" textLength="6.87" lengthAdjust="spacingAndGlyphs">t</tspan></text>
<text y="411.00" font-size="19.78" fill="#262626"><tspan x="34.11" textLength="11.01" lengthAdjust="spacingAndGlyphs">P</tspan><tspan x="45.00" textLength="7.97" lengthAdjust="spacingAndGlyphs">r</tspan><tspan x="52.76" textLength="11.04" lengthAdjust="spacingAndGlyphs">o</tspan><tspan x="64.07" textLength="6.81" lengthAdjust="spacingAndGlyphs">f</tspan><tspan x="71.04" textLength="4.24" lengthAdjust="spacingAndGlyphs">i</tspan><tspan x="76.22" textLength="4.24" lengthAdjust="spacingAndGlyphs">l</tspan><tspan x="81.11" textLength="11.22" lengthAdjust="spacingAndGlyphs">e</tspan> <tspan x="98.83" textLength="11.01" lengthAdjust="spacingAndGlyphs">P</tspan><tspan x="109.98" textLength="12.90" lengthAdjust="spacingAndGlyphs">R</tspan><tspan x="123.09" textLength="10.79" lengthAdjust="spacingAndGlyphs">E</tspan><tspan x="134.86" textLength="11.10" lengthAdjust="spacingAndGlyphs">S</tspan> <tspan x="152.34" textLength="14.36" lengthAdjust="spacingAndGlyphs">Q</tspan><tspan x="167.03" textLength="12.52" lengthAdjust="spacingAndGlyphs">C</tspan></text>
<text y="434.00" font-size="19.78" fill="#262626"><tspan x="15.83" textLength="17.72" lengthAdjust="spacingAndGlyphs">m</tspan><tspan x="33.93" textLength="11.04" lengthAdjust="spacingAndGlyphs">o</tspan><tspan x="45.33" textLength="11.29" lengthAdjust="spacingAndGlyphs">d</tspan><tspan x="57.18" textLength="11.22" lengthAdjust="spacingAndGlyphs">e</tspan> <tspan x="74.62" textLength="11.04" lengthAdjust="spacingAndGlyphs">o</tspan><tspan x="85.93" textLength="6.81" lengthAdjust="spacingAndGlyphs">f</tspan> <tspan x="98.83" textLength="11.01" lengthAdjust="spacingAndGlyphs">P</tspan><tspan x="109.98" textLength="12.90" lengthAdjust="spacingAndGlyphs">R</tspan><tspan x="123.09" textLength="10.79" lengthAdjust="spacingAndGlyphs">E</tspan><tspan x="134.86" textLength="11.10" lengthAdjust="spacingAndGlyphs">S</tspan> <tspan x="152.34" textLength="14.36" lengthAdjust="spacingAndGlyphs">Q</tspan><tspan x="167.03" textLength="12.52" lengthAdjust="spacingAndGlyphs">C</tspan></text>
<text y="482.00" font-size="19.78" fill="#262626"><tspan x="31.42" textLength="11.01" lengthAdjust="spacingAndGlyphs">P</tspan><tspan x="42.31" textLength="7.97" lengthAdjust="spacingAndGlyphs">r</tspan><tspan x="50.07" textLength="11.04" lengthAdjust="spacingAndGlyphs">o</tspan><tspan x="61.38" textLength="6.81" lengthAdjust="spacingAndGlyphs">f</tspan><tspan x="68.35" textLength="4.24" lengthAdjust="spacingAndGlyphs">i</tspan><tspan x="73.53" textLength="4.24" lengthAdjust="spacingAndGlyphs">l</tspan><tspan x="78.42" textLength="11.22" lengthAdjust="spacingAndGlyphs">e</tspan> <tspan x="95.15" textLength="12.44" lengthAdjust="spacingAndGlyphs">T</tspan><tspan x="107.58" textLength="10.79" lengthAdjust="spacingAndGlyphs">E</tspan><tspan x="119.17" textLength="15.51" lengthAdjust="spacingAndGlyphs">M</tspan><tspan x="135.45" textLength="11.01" lengthAdjust="spacingAndGlyphs">P</tspan> <tspan x="152.34" textLength="14.36" lengthAdjust="spacingAndGlyphs">Q</tspan><tspan x="167.03" textLength="12.52" lengthAdjust="spacingAndGlyphs">C</tspan></text>
<text y="506.00" font-size="19.78" fill="#262626"><tspan x="13.14" textLength="17.72" lengthAdjust="spacingAndGlyphs">m</tspan><tspan x="31.24" textLength="11.04" lengthAdjust="spacingAndGlyphs">o</tspan><tspan x="42.64" textLength="11.29" lengthAdjust="spacingAndGlyphs">d</tspan><tspan x="54.49" textLength="11.22" lengthAdjust="spacingAndGlyphs">e</tspan> <tspan x="71.93" textLength="11.04" lengthAdjust="spacingAndGlyphs">o</tspan><tspan x="83.24" textLength="6.81" lengthAdjust="spacingAndGlyphs">f</tspan> <tspan x="95.15" textLength="12.44" lengthAdjust="spacingAndGlyphs">T</tspan><tspan x="107.58" textLength="10.79" lengthAdjust="spacingAndGlyphs">E</tspan><tspan x="119.17" textLength="15.51" lengthAdjust="spacingAndGlyphs">M</tspan><tspan x="135.45" textLength="11.01" lengthAdjust="spacingAndGlyphs">P</tspan> <tspan x="152.34" textLength="14.36" lengthAdjust="spacingAndGlyphs">Q</tspan><tspan x="167.03" textLength="12.52" lengthAdjust="spacingAndGlyphs">C</tspan></text>
<text y="566.00" font-size="19.78" fill="#262626"><tspan x="20.64" textLength="11.01" lengthAdjust="spacingAndGlyphs">P</tspan><tspan x="31.90" textLength="11.10" lengthAdjust="spacingAndGlyphs">S</tspan><tspan x="43.38" textLength="12.54" lengthAdjust="spacingAndGlyphs">A</tspan><tspan x="56.30" textLength="10.68" lengthAdjust="spacingAndGlyphs">L</tspan> <tspan x="72.49" textLength="12.54" lengthAdjust="spacingAndGlyphs">A</tspan><tspan x="85.33" textLength="11.29" lengthAdjust="spacingAndGlyphs">d</tspan><tspan x="97.18" textLength="4.68" lengthAdjust="spacingAndGlyphs">j</tspan><tspan x="102.47" textLength="11.19" lengthAdjust="spacingAndGlyphs">u</tspan><tspan x="114.54" textLength="8.95" lengthAdjust="spacingAndGlyphs">s</tspan><tspan x="123.91" textLength="6.87" lengthAdjust="spacingAndGlyphs">t</tspan><tspan x="131.36" textLength="17.72" lengthAdjust="spacingAndGlyphs">m</tspan><tspan x="149.43" textLength="11.22" lengthAdjust="spacingAndGlyphs">e</tspan><tspan x="161.11" textLength="11.19" lengthAdjust="spacingAndGlyphs">n</tspan><tspan x="172.74" textLength="6.87" lengthAdjust="spacingAndGlyphs">t</tspan></text>
<text y="626.00" font-size="19.78" fill="#262626"><tspan x="35.70" textLength="11.01" lengthAdjust="spacingAndGlyphs">P</tspan><tspan x="46.59" textLength="7.97" lengthAdjust="spacingAndGlyphs">r</tspan><tspan x="54.36" textLength="11.04" lengthAdjust="spacingAndGlyphs">o</tspan><tspan x="65.66" textLength="6.81" lengthAdjust="spacingAndGlyphs">f</tspan><tspan x="72.64" textLength="4.24" lengthAdjust="spacingAndGlyphs">i</tspan><tspan x="77.82" textLength="4.24" lengthAdjust="spacingAndGlyphs">l</tspan><tspan x="82.70" textLength="11.22" lengthAdjust="spacingAndGlyphs">e</tspan> <tspan x="100.43" textLength="11.01" lengthAdjust="spacingAndGlyphs">P</tspan><tspan x="111.68" textLength="11.10" lengthAdjust="spacingAndGlyphs">S</tspan><tspan x="123.17" textLength="12.54" lengthAdjust="spacingAndGlyphs">A</tspan><tspan x="136.09" textLength="10.68" lengthAdjust="spacingAndGlyphs">L</tspan> <tspan x="152.34" textLength="14.36" lengthAdjust="spacingAndGlyphs">Q</tspan><tspan x="167.03" textLength="12.52" lengthAdjust="spacingAndGlyphs">C</tspan></text>
<text y="650.00" font-size="19.78" fill="#262626"><tspan x="17.42" textLength="17.72" lengthAdjust="spacingAndGlyphs">m</tspan><tspan x="35.52" textLength="11.04" lengthAdjust="spacingAndGlyphs">o</tspan><tspan x="46.93" textLength="11.29" lengthAdjust="spacingAndGlyphs">d</tspan><tspan x="58.77" textLength="11.22" lengthAdjust="spacingAndGlyphs">e</tspan> <tspan x="76.22" textLength="11.04" lengthAdjust="spacingAndGlyphs">o</tspan><tspan x="87.52" textLength="6.81" lengthAdjust="spacingAndGlyphs">f</tspan> <tspan x="100.43" textLength="11.01" lengthAdjust="spacingAndGlyphs">P</tspan><tspan x="111.68" textLength="11.10" lengthAdjust="spacingAndGlyphs">S</tspan><tspan x="123.17" textLength="12.54" lengthAdjust="spacingAndGlyphs">A</tspan><tspan x="136.09" textLength="10.68" lengthAdjust="spacingAndGlyphs">L</tspan> <tspan x="152.34" textLength="14.36" lengthAdjust="spacingAndGlyphs">Q</tspan><tspan x="167.03" textLength="12.52" lengthAdjust="spacingAndGlyphs">C</tspan></text>
<text y="220.00" font-size="17.40" fill="#000000"><tspan x="94.38" textLength="13.85" lengthAdjust="spacingAndGlyphs">M</tspan><tspan x="108.86" textLength="8.34" lengthAdjust="spacingAndGlyphs">a</tspan><tspan x="118.98" textLength="9.25" lengthAdjust="spacingAndGlyphs">x</tspan><tspan x="128.88" textLength="5.01" lengthAdjust="spacingAndGlyphs">:</tspan> <tspan x="140.04" textLength="9.33" lengthAdjust="spacingAndGlyphs">1</tspan><tspan x="150.65" textLength="9.33" lengthAdjust="spacingAndGlyphs">1</tspan><tspan x="160.94" textLength="10.11" lengthAdjust="spacingAndGlyphs">6</tspan></text>
<text y="292.00" font-size="17.40" fill="#0b8fc0"><tspan x="44.54" textLength="13.85" lengthAdjust="spacingAndGlyphs">M</tspan><tspan x="59.01" textLength="8.34" lengthAdjust="spacingAndGlyphs">a</tspan><tspan x="69.14" textLength="9.25" lengthAdjust="spacingAndGlyphs">x</tspan><tspan x="79.04" textLength="5.01" lengthAdjust="spacingAndGlyphs">:</tspan> <tspan x="90.01" textLength="9.42" lengthAdjust="spacingAndGlyphs">2</tspan><tspan x="100.66" textLength="9.77" lengthAdjust="spacingAndGlyphs">0</tspan><tspan x="111.27" textLength="9.77" lengthAdjust="spacingAndGlyphs">0</tspan><tspan x="121.83" textLength="9.42" lengthAdjust="spacingAndGlyphs">2</tspan> <tspan x="137.53" textLength="10.08" lengthAdjust="spacingAndGlyphs">d</tspan><tspan x="148.29" textLength="10.09" lengthAdjust="spacingAndGlyphs">b</tspan><tspan x="158.89" textLength="8.34" lengthAdjust="spacingAndGlyphs">a</tspan><tspan x="168.84" textLength="7.11" lengthAdjust="spacingAndGlyphs">r</tspan></text>
<text y="373.00" font-size="17.40" fill="#e8188a"><tspan x="39.86" textLength="13.85" lengthAdjust="spacingAndGlyphs">M</tspan><tspan x="54.13" textLength="10.01" lengthAdjust="spacingAndGlyphs">e</tspan><tspan x="64.59" textLength="8.34" lengthAdjust="spacingAndGlyphs">a</tspan><tspan x="74.77" textLength="10.00" lengthAdjust="spacingAndGlyphs">n</tspan><tspan x="85.32" textLength="5.01" lengthAdjust="spacingAndGlyphs">:</tspan> <tspan x="96.34" textLength="9.77" lengthAdjust="spacingAndGlyphs">0</tspan><tspan x="106.67" textLength="5.01" lengthAdjust="spacingAndGlyphs">.</tspan><tspan x="112.24" textLength="9.77" lengthAdjust="spacingAndGlyphs">0</tspan><tspan x="122.99" textLength="9.33" lengthAdjust="spacingAndGlyphs">1</tspan> <tspan x="138.50" textLength="10.08" lengthAdjust="spacingAndGlyphs">d</tspan><tspan x="149.27" textLength="10.09" lengthAdjust="spacingAndGlyphs">b</tspan><tspan x="159.87" textLength="8.34" lengthAdjust="spacingAndGlyphs">a</tspan><tspan x="169.82" textLength="7.11" lengthAdjust="spacingAndGlyphs">r</tspan></text>
<text y="392.00" font-size="17.40" fill="#e8188a"><tspan x="45.04" textLength="9.83" lengthAdjust="spacingAndGlyphs">P</tspan><tspan x="54.82" textLength="10.01" lengthAdjust="spacingAndGlyphs">e</tspan><tspan x="65.28" textLength="8.34" lengthAdjust="spacingAndGlyphs">a</tspan><tspan x="75.39" textLength="9.32" lengthAdjust="spacingAndGlyphs">k</tspan><tspan x="85.10" textLength="5.01" lengthAdjust="spacingAndGlyphs">:</tspan> <tspan x="96.12" textLength="9.77" lengthAdjust="spacingAndGlyphs">0</tspan><tspan x="106.45" textLength="5.01" lengthAdjust="spacingAndGlyphs">.</tspan><tspan x="112.24" textLength="9.39" lengthAdjust="spacingAndGlyphs">3</tspan><tspan x="122.63" textLength="9.77" lengthAdjust="spacingAndGlyphs">0</tspan> <tspan x="138.28" textLength="10.08" lengthAdjust="spacingAndGlyphs">d</tspan><tspan x="149.05" textLength="10.09" lengthAdjust="spacingAndGlyphs">b</tspan><tspan x="159.65" textLength="8.34" lengthAdjust="spacingAndGlyphs">a</tspan><tspan x="169.59" textLength="7.11" lengthAdjust="spacingAndGlyphs">r</tspan></text>
<text y="589.00" font-size="17.40" fill="#0b8fc0"><tspan x="39.03" textLength="13.85" lengthAdjust="spacingAndGlyphs">M</tspan><tspan x="53.29" textLength="10.01" lengthAdjust="spacingAndGlyphs">e</tspan><tspan x="63.76" textLength="8.34" lengthAdjust="spacingAndGlyphs">a</tspan><tspan x="73.93" textLength="10.00" lengthAdjust="spacingAndGlyphs">n</tspan><tspan x="84.48" textLength="5.01" lengthAdjust="spacingAndGlyphs">:</tspan> <tspan x="95.11" textLength="5.98" lengthAdjust="spacingAndGlyphs">-</tspan><tspan x="101.52" textLength="9.77" lengthAdjust="spacingAndGlyphs">0</tspan><tspan x="111.85" textLength="5.01" lengthAdjust="spacingAndGlyphs">.</tspan><tspan x="117.42" textLength="9.77" lengthAdjust="spacingAndGlyphs">0</tspan><tspan x="128.03" textLength="9.77" lengthAdjust="spacingAndGlyphs">0</tspan> <tspan x="143.95" textLength="9.83" lengthAdjust="spacingAndGlyphs">P</tspan><tspan x="154.00" textLength="9.91" lengthAdjust="spacingAndGlyphs">S</tspan><tspan x="164.34" textLength="11.83" lengthAdjust="spacingAndGlyphs">U</tspan></text>
<text y="608.00" font-size="17.40" fill="#0b8fc0"><tspan x="44.25" textLength="9.83" lengthAdjust="spacingAndGlyphs">P</tspan><tspan x="54.03" textLength="10.01" lengthAdjust="spacingAndGlyphs">e</tspan><tspan x="64.50" textLength="8.34" lengthAdjust="spacingAndGlyphs">a</tspan><tspan x="74.61" textLength="9.32" lengthAdjust="spacingAndGlyphs">k</tspan><tspan x="84.31" textLength="5.01" lengthAdjust="spacingAndGlyphs">:</tspan> <tspan x="94.94" textLength="5.98" lengthAdjust="spacingAndGlyphs">-</tspan><tspan x="101.35" textLength="9.77" lengthAdjust="spacingAndGlyphs">0</tspan><tspan x="111.68" textLength="5.01" lengthAdjust="spacingAndGlyphs">.</tspan><tspan x="117.25" textLength="9.77" lengthAdjust="spacingAndGlyphs">0</tspan><tspan x="128.07" textLength="9.39" lengthAdjust="spacingAndGlyphs">3</tspan> <tspan x="143.78" textLength="9.83" lengthAdjust="spacingAndGlyphs">P</tspan><tspan x="153.83" textLength="9.91" lengthAdjust="spacingAndGlyphs">S</tspan><tspan x="164.17" textLength="11.83" lengthAdjust="spacingAndGlyphs">U</tspan></text>
<text y="741.00" font-size="17.40" fill="#000000"><tspan x="90.50" textLength="11.20" lengthAdjust="spacingAndGlyphs">A</tspan><tspan x="101.91" textLength="7.11" lengthAdjust="spacingAndGlyphs">r</tspan><tspan x="108.82" textLength="10.08" lengthAdjust="spacingAndGlyphs">g</tspan><tspan x="119.42" textLength="9.86" lengthAdjust="spacingAndGlyphs">o</tspan> <tspan x="135.22" textLength="15.51" lengthAdjust="spacingAndGlyphs">W</tspan><tspan x="151.50" textLength="11.98" lengthAdjust="spacingAndGlyphs">H</tspan><tspan x="163.92" textLength="12.82" lengthAdjust="spacingAndGlyphs">O</tspan><tspan x="176.89" textLength="4.90" lengthAdjust="spacingAndGlyphs">I</tspan> <tspan x="187.51" textLength="9.77" lengthAdjust="spacingAndGlyphs">0</tspan><tspan x="198.26" textLength="9.33" lengthAdjust="spacingAndGlyphs">1</tspan><tspan x="208.32" textLength="5.98" lengthAdjust="spacingAndGlyphs">-</tspan><tspan x="214.55" textLength="12.46" lengthAdjust="spacingAndGlyphs">D</tspan><tspan x="227.32" textLength="10.01" lengthAdjust="spacingAndGlyphs">e</tspan><tspan x="237.63" textLength="8.36" lengthAdjust="spacingAndGlyphs">c</tspan><tspan x="246.60" textLength="5.98" lengthAdjust="spacingAndGlyphs">-</tspan><tspan x="252.97" textLength="9.42" lengthAdjust="spacingAndGlyphs">2</tspan><tspan x="263.62" textLength="9.77" lengthAdjust="spacingAndGlyphs">0</tspan><tspan x="274.18" textLength="9.42" lengthAdjust="spacingAndGlyphs">2</tspan><tspan x="285.04" textLength="9.22" lengthAdjust="spacingAndGlyphs">5</tspan></text>
<text y="44.00" font-size="35.32" fill="#0590c0" font-weight="bold" stroke="#0590c0" stroke-width="0.7"><tspan x="314.51" textLength="27.17" lengthAdjust="spacingAndGlyphs">A</tspan><tspan x="340.75" textLength="16.95" lengthAdjust="spacingAndGlyphs">r</tspan><tspan x="357.04" textLength="23.54" lengthAdjust="spacingAndGlyphs">g</tspan><tspan x="380.74" textLength="22.76" lengthAdjust="spacingAndGlyphs">o</tspan> <tspan x="416.71" textLength="34.33" lengthAdjust="spacingAndGlyphs">W</tspan><tspan x="452.50" textLength="31.77" lengthAdjust="spacingAndGlyphs">M</tspan><tspan x="484.94" textLength="27.60" lengthAdjust="spacingAndGlyphs">O</tspan> <tspan x="526.62" textLength="20.40" lengthAdjust="spacingAndGlyphs">5</tspan><tspan x="548.67" textLength="22.15" lengthAdjust="spacingAndGlyphs">9</tspan><tspan x="571.40" textLength="23.34" lengthAdjust="spacingAndGlyphs">0</tspan><tspan x="595.53" textLength="20.89" lengthAdjust="spacingAndGlyphs">4</tspan><tspan x="618.55" textLength="21.46" lengthAdjust="spacingAndGlyphs">8</tspan><tspan x="641.44" textLength="21.65" lengthAdjust="spacingAndGlyphs">7</tspan><tspan x="665.47" textLength="20.40" lengthAdjust="spacingAndGlyphs">5</tspan></text>
<text y="691.00" font-size="19.78" fill="#262626"><tspan x="186.17" textLength="10.95" lengthAdjust="spacingAndGlyphs">0</tspan></text>
<text y="691.00" font-size="19.78" fill="#262626"><tspan x="277.60" textLength="10.55" lengthAdjust="spacingAndGlyphs">2</tspan><tspan x="289.53" textLength="10.95" lengthAdjust="spacingAndGlyphs">0</tspan></text>
<text y="691.00" font-size="19.78" fill="#262626"><tspan x="375.07" textLength="10.95" lengthAdjust="spacingAndGlyphs">4</tspan><tspan x="386.95" textLength="10.95" lengthAdjust="spacingAndGlyphs">0</tspan></text>
<text y="691.00" font-size="19.78" fill="#262626"><tspan x="472.30" textLength="11.33" lengthAdjust="spacingAndGlyphs">6</tspan><tspan x="484.37" textLength="10.95" lengthAdjust="spacingAndGlyphs">0</tspan></text>
<text y="691.00" font-size="19.78" fill="#262626"><tspan x="569.85" textLength="11.06" lengthAdjust="spacingAndGlyphs">8</tspan><tspan x="581.79" textLength="10.95" lengthAdjust="spacingAndGlyphs">0</tspan></text>
<text y="691.00" font-size="19.78" fill="#262626"><tspan x="661.55" textLength="10.45" lengthAdjust="spacingAndGlyphs">1</tspan><tspan x="673.27" textLength="10.95" lengthAdjust="spacingAndGlyphs">0</tspan><tspan x="685.15" textLength="10.95" lengthAdjust="spacingAndGlyphs">0</tspan></text>
<text y="691.00" font-size="19.78" fill="#262626"><tspan x="758.97" textLength="10.45" lengthAdjust="spacingAndGlyphs">1</tspan><tspan x="770.64" textLength="10.55" lengthAdjust="spacingAndGlyphs">2</tspan><tspan x="782.57" textLength="10.95" lengthAdjust="spacingAndGlyphs">0</tspan></text>
<text y="717.00" font-size="21.72" fill="#262626"><tspan x="428.41" textLength="13.74" lengthAdjust="spacingAndGlyphs">C</tspan><tspan x="443.10" textLength="11.01" lengthAdjust="spacingAndGlyphs">y</tspan><tspan x="454.93" textLength="10.28" lengthAdjust="spacingAndGlyphs">c</tspan><tspan x="466.47" textLength="4.66" lengthAdjust="spacingAndGlyphs">l</tspan><tspan x="471.83" textLength="12.31" lengthAdjust="spacingAndGlyphs">e</tspan> <tspan x="491.12" textLength="14.62" lengthAdjust="spacingAndGlyphs">N</tspan><tspan x="506.41" textLength="12.29" lengthAdjust="spacingAndGlyphs">u</tspan><tspan x="519.41" textLength="19.46" lengthAdjust="spacingAndGlyphs">m</tspan><tspan x="539.49" textLength="12.40" lengthAdjust="spacingAndGlyphs">b</tspan><tspan x="552.27" textLength="12.31" lengthAdjust="spacingAndGlyphs">e</tspan><tspan x="564.81" textLength="8.75" lengthAdjust="spacingAndGlyphs">r</tspan></text>
</g>
</svg>
</body></html>
